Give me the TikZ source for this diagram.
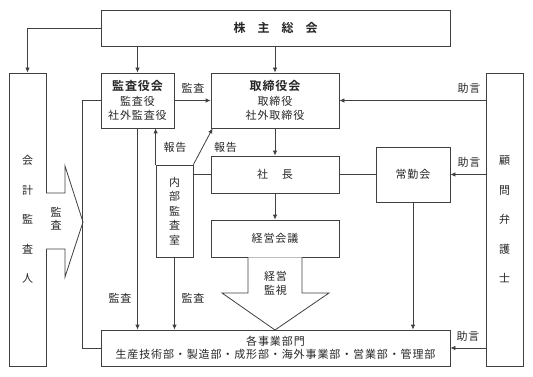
\documentclass[tikz,border=0pt]{standalone}
\usepackage{fontspec}
\setmainfont{Noto Sans CJK JP}[BoldFont={Noto Sans CJK JP Bold},LetterSpace=8]
\usetikzlibrary{arrows.meta}
\colorlet{lc}{black!75}
\newcommand{\fs}{\fontsize{11}{14.5}\selectfont}
\newcommand{\bfs}{\fontsize{12}{14.5}\selectfont\bfseries}
\tikzset{
  bx/.style={draw=lc, line width=0.8pt, inner sep=0pt, align=center, font=\fs, text=black!85},
  arr/.style={draw=lc, line width=0.8pt, -{Latex[length=5pt,width=4.5pt]}},
  ln/.style={draw=lc, line width=0.8pt},
  lab/.style={font=\fs, inner sep=0pt, text=black!85, align=center},
  blk/.style={draw=lc, line width=0.8pt, fill=white, line join=miter},
}
\begin{document}
\begin{tikzpicture}[x=1pt,y=-1pt]
\useasboundingbox (0,0) rectangle (533,377);
% boxes
\node[bx, minimum width=349pt, minimum height=36pt, font=\bfs] (sh) at (275.5,28) {株\hspace{12pt}主\hspace{12pt}総\hspace{12pt}会};
\node[bx, minimum width=37pt, minimum height=293pt, font=\fontsize{11}{29.5}\selectfont] (kai) at (27.5,219.5) {会\\計\\監\\査\\人};
\node[bx, minimum width=73pt, minimum height=55pt] (kan) at (137.5,100.5) {{\bfs 監査役会}\\監査役\\社外監査役};
\node[bx, minimum width=128pt, minimum height=55pt] (tor) at (275,100.5) {{\bfs 取締役会}\\取締役\\社外取締役};
\node[bx, minimum width=37pt, minimum height=92pt] (nai) at (174.5,211) {内\\部\\監\\査\\室};
\node[bx, minimum width=128pt, minimum height=37pt] (sha) at (275,174.5) {社\hspace{14pt}長};
\node[bx, minimum width=74pt, minimum height=55pt] (jo) at (413,174.5) {常勤会};
\node[bx, minimum width=128pt, minimum height=37pt] (kei) at (275,238.5) {経営会議};
\node[bx, minimum width=37pt, minimum height=293pt, font=\fontsize{11}{29.5}\selectfont] (kom) at (504.5,219.5) {顧\\問\\弁\\護\\士};
\node[bx, minimum width=349pt, minimum height=36pt] (kak) at (275.5,348) {各事業部門\\[-1pt]生産技術部・製造部・成形部・海外事業部・営業部・管理部};
% block arrows
\draw[blk] (46,193) -- (65,193) -- (65,166) -- (83,222) -- (65,277) -- (65,249) -- (46,249);
\node[lab, font=\fontsize{11}{13}\selectfont] (kansa) at (56,218.5) {監\\査};
\draw[blk] (248,257.4) -- (248,293) -- (222,293) -- (275,330) -- (329,293) -- (302,293) -- (302,257.4);
\node[lab, font=\fontsize{11}{14}\selectfont] (keieikanshi) at (275.5,283.5) {経営\\監視};
% connectors
\draw[arr] (sh.west) -| (kai.north);
\draw[arr] (kan.north |- sh.south) -- (kan.north);
\draw[arr] (tor.north |- sh.south) -- (tor.north);
\draw[arr] (kan.east) -- (tor.west);
\node[lab] (l1) at (193,88) {監査};
\draw[ln] (kan.west) -- ++(-18,0) coordinate (kw) |- (kak.west);
\draw[arr] (kan.south) -- (kan.south |- kak.north);
\node[lab] (l2) at (120,298) {監査};
\draw[arr] (nai.south) -- (nai.south |- kak.north);
\node[lab] (l3) at (193,298) {監査};
\draw[arr] (nai.north west) -- (nai.north west |- kan.south);
\node[lab] (l4) at (175,147) {報告};
\draw[arr] (nai.north east) -- ([xshift=2pt]tor.south west);
\node[lab] (l5) at (225.5,147) {報告};
\draw[ln] (nai.east |- sha.west) -- (sha.west);
\draw[arr] (tor.south) -- (sha.north);
\draw[ln] (sha.east) -- (jo.west);
\draw[arr] (sha.south) -- (kei.north);
\draw[arr] (jo.south) -- (jo.south |- kak.north);
\draw[arr] (kom.west |- tor.east) -- (tor.east);
\node[lab] (l6) at (469,88) {助言};
\draw[arr] (kom.west |- jo.east) -- (jo.east);
\node[lab] (l7) at (469,162) {助言};
\draw[arr] (kom.west |- kak.east) -- (kak.east);
\node[lab] (l8) at (468,336.5) {助言};
\end{tikzpicture}
\end{document}
